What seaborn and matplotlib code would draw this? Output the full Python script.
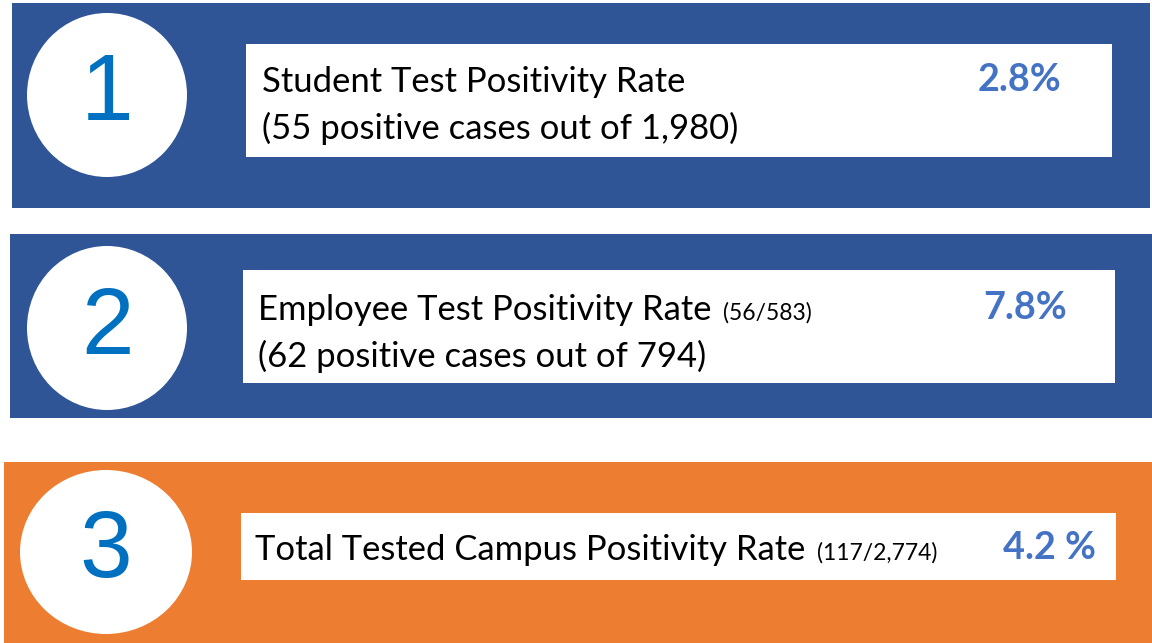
import matplotlib
matplotlib.use("Agg")
import matplotlib.pyplot as plt
from matplotlib.patches import Rectangle, Ellipse
import seaborn as sns

# data
numbers = ["1", "2", "3"]
titles = ["Student Test Positivity Rate", "Employee Test Positivity Rate",
          "Total Tested Campus Positivity Rate"]
notes = ["", "(56/583)", "(117/2,774)"]
sublines = ["(55 positive cases out of 1,980)", "(62 positive cases out of 794)", ""]
rates = ["2.8%", "7.8%", "4.2 %"]

# layout in pixels (top-left origin)
panel_box = [(12, 3, 1150, 208), (10, 234, 1152, 418), (4, 462, 1152, 643)]
panel_col = ["#2F5597", "#2F5597", "#ED7D31"]
white_box = [(246, 44, 1112, 157), (243, 270, 1115, 383), (241, 513, 1116, 580)]
circ = [(107, 95, 80, 82), (107, 328, 80, 82), (106, 552, 86, 82)]
text_x = [262, 258, 255]
line1_y = [92, 320, 560]
line2_y = [139, 367, None]
rate_x = [978, 983, 1003]

sns.set_theme(style="white")
plt.rcParams["font.family"] = ["Lato", "DejaVu Sans"]

fig = plt.figure(figsize=(11.52, 6.43), dpi=100)
ax = fig.add_axes([0, 0, 1, 1])
ax.set_xlim(0, 1152)
ax.set_ylim(643, 0)
ax.axis("off")
r = fig.canvas.get_renderer()


def fit(t, width):
    w = t.get_window_extent(r).width
    t.set_fontsize(t.get_fontsize() * width / w)


# sizes found from reference widths
probe = ax.text(0, 0, titles[0], fontsize=20)
fit(probe, 424)
main_fs = probe.get_fontsize()
probe.remove()
probe = ax.text(0, 0, notes[1], fontsize=10)
fit(probe, 89)
note_fs = probe.get_fontsize()
probe.remove()
probe = ax.text(0, 0, rates[1], fontsize=20, fontweight="bold")
fit(probe, 84)
rate_fs = probe.get_fontsize()
probe.remove()

for i in range(3):
    x0, y0, x1, y1 = panel_box[i]
    ax.add_patch(Rectangle((x0, y0), x1 - x0, y1 - y0, color=panel_col[i], lw=0))
    x0, y0, x1, y1 = white_box[i]
    ax.add_patch(Rectangle((x0, y0), x1 - x0, y1 - y0, color="white", lw=0))
    cx, cy, rx, ry = circ[i]
    ax.add_patch(Ellipse((cx, cy), 2 * rx, 2 * ry, color="white", lw=0))
    ax.text(cx, cy + 1, numbers[i], ha="center", va="center", fontsize=68,
            color="#0070C0", family="Liberation Sans")

    t = ax.text(text_x[i], line1_y[i], titles[i], fontsize=main_fs,
                color="black", va="baseline")
    if notes[i]:
        ext = t.get_window_extent(r)
        ax.text(ext.x1 + 12, line1_y[i], notes[i], fontsize=note_fs,
                color="black", va="baseline")
    if sublines[i]:
        ax.text(text_x[i], line2_y[i], sublines[i], fontsize=main_fs,
                color="black", va="baseline")
    ax.text(rate_x[i], line1_y[i] - 1, rates[i], fontsize=rate_fs,
            fontweight="bold", color="#4472C4", va="baseline")

fig.savefig("out.png", dpi=100)
